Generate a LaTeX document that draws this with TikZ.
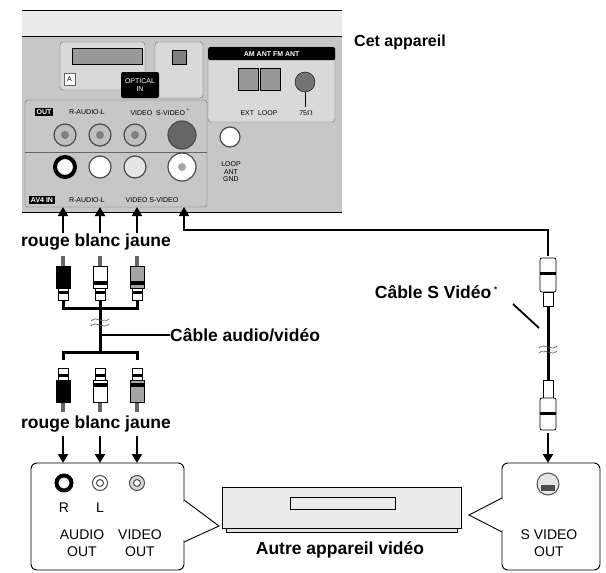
\documentclass[tikz,border=0pt]{standalone}
\usepackage{fontspec}
\setmainfont{Liberation Sans}
\usetikzlibrary{arrows.meta}

\tikzset{
  lbl/.style={font=\bfseries\fontsize{17.5}{17.5}\selectfont, inner sep=0pt},
  tiny/.style={font=\fontsize{7}{7.5}\selectfont, inner sep=0pt},
  tinyw/.style={tiny, text=white, fill=black, inner sep=1.5pt},
  small/.style={font=\fontsize{14}{14}\selectfont, inner sep=0pt, align=center},
  jack/.style={circle, draw=black!70, fill=black!25, line width=1.2pt},
  conn/.style={line width=2.4pt, -{Triangle[length=9pt,width=10pt]}},
  cable/.style={line width=3pt},
  callout/.style={draw, line width=0.9pt, rounded corners=6pt, fill=white}
}

\newcommand\rcaplug[3]{% x, y of tip, colour; plug pointing up
  \fill[black!60] (#1-2,#2) rectangle (#1+2,#2+10);
  \filldraw[fill=#3, draw=black, line width=0.7pt] (#1-7,#2+10) rectangle (#1+7,#2+32);
  \fill[black] (#1-7,#2+25) rectangle (#1+7,#2+29);
  \filldraw[fill=white, draw=black, line width=0.7pt] (#1-5,#2+32) rectangle (#1+5,#2+44);
  \fill[black] (#1-5,#2+35) rectangle (#1+5,#2+38);
}
\newcommand\wave[2]{% cable break mark
  \draw[line width=0.7pt, black!60] (#1-9,#2-2) .. controls (#1-3,#2-8) and (#1+3,#2+2) .. (#1+9,#2-4);
  \draw[line width=0.7pt, black!60] (#1-9,#2+3) .. controls (#1-3,#2-3) and (#1+3,#2+7) .. (#1+9,#2+1);
}

\begin{document}
\begin{tikzpicture}[x=1pt, y=-1pt]
\useasboundingbox (0,0) rectangle (606,573);

% back panel
\fill[black!8] (22,10) rectangle (342,36);
\draw[line width=0.8pt] (22,10) -- (342,10);
\fill[black!22] (22,36) rectangle (342,212);
\draw[line width=0.8pt] (22,36) -- (342,36);
\draw[line width=1pt] (22,212) -- (342,212);
\draw[black!60, rounded corners=3pt, fill=black!15] (60,42) rectangle (145,90);
\filldraw[fill=black!40, draw=black] (72,48) rectangle (142,64);
\draw[black!60, fill=white] (64,73) rectangle (75,85);
\node[tiny] (pa) at (69.5,79) {A};
\draw[black!60, rounded corners=3pt, fill=black!15] (155,42) rectangle (203,98);
\filldraw[fill=black!50, draw=black] (172,50) rectangle (186,64);
\node[tinyw, rounded corners=2pt, align=center, minimum width=38pt, minimum height=26pt] (opt) at (140,85) {OPTICAL\\IN};
% antenna block
\draw[black!60, rounded corners=3pt, fill=black!15] (208,47) rectangle (335,122);
\node[tinyw, font=\bfseries\fontsize{7}{7.5}\selectfont, minimum width=127pt, minimum height=13pt, anchor=north west, rounded corners=2pt] (ant) at (208,47) {AM ANT FM ANT};
\filldraw[fill=black!40, draw=black] (238,68) rectangle (258,90);
\filldraw[fill=black!40, draw=black] (260,68) rectangle (280,90);
\node[circle, fill=black!55, draw=black, minimum size=20pt, inner sep=0pt] (coax) at (305,82) {};
\draw (coax.south) -- (305,107);
\node[tiny] (ext) at (259,113) {EXT\ \ LOOP};
\node[tiny] (ohm) at (306,113) {75$\Omega$};
% jacks block
\draw[black!60, rounded corners=3pt] (25,100) rectangle (207,207);
\draw[black!60] (25,152) -- (207,152);
\node[tinyw, font=\bfseries\fontsize{7}{7.5}\selectfont] (out) at (44,112) {OUT};
\node[tiny] (ral1) at (87,112) {R-AUDIO-L};
\node[tiny] (vs1) at (160,112) {VIDEO\ \ S-VIDEO \textsuperscript{*}};
\node[tinyw, font=\bfseries\fontsize{7}{7.5}\selectfont] (av4) at (42,200) {AV4 IN};
\node[tiny] (ral2) at (87,200) {R-AUDIO-L};
\node[tiny] (vs2) at (152,200) {VIDEO S-VIDEO};
\foreach \x/\n in {65/a, 100/b, 135/c} {
  \node[jack, minimum size=22pt] (o\n) at (\x,135) {};
  \node[circle, fill=black!50, minimum size=8pt, inner sep=0pt] at (\x,135) {};
}
\node[jack, fill=black!60, minimum size=28pt] (os) at (182,135) {};
\node[circle, draw=black, line width=4pt, fill=white, minimum size=20pt] (ia) at (65,167) {};
\node[jack, fill=white, minimum size=22pt] (ib) at (100,167) {};
\node[jack, fill=black!10, minimum size=22pt] (ic) at (135,167) {};
\node[jack, fill=white, minimum size=28pt] (is) at (182,167) {};
\node[circle, fill=black!35, minimum size=8pt, inner sep=0pt] at (182,167) {};
\node[jack, fill=white, minimum size=20pt] (gnd) at (230,137) {};
\node[tiny, align=center] (gndl) at (231,172) {LOOP\\ANT\\GND};
\node[font=\bfseries\fontsize{16}{16}\selectfont, anchor=west, inner sep=0pt] (cet) at (354,42) {Cet appareil};

% inputs
\coordinate (ta) at (63,207);
\coordinate (tb) at (100,207);
\coordinate (tc) at (137,207);
\coordinate (ts) at (184,207);
\coordinate (sa) at (63,233);
\coordinate (sb) at (100,233);
\coordinate (sc) at (137,233);
\draw[conn] (sa) -- (ta);
\draw[conn] (sb) -- (tb);
\draw[conn] (sc) -- (tc);
\coordinate (sv) at (548,256);
\draw[line width=1.8pt, -{Triangle[length=9pt,width=10pt]}] (sv) |- (184,230) -- (ts);
\node[lbl] (col1) at (96,242) {rouge blanc jaune};

% audio/video cable
\draw[cable] (63,300) |- (137,308) -- (137,300);
\draw[cable] (100,300) -- (100,352);
\draw[cable] (63,360) |- (137,352) -- (137,360);
\wave{100}{323}
\rcaplug{63}{256}{black}
\rcaplug{100}{256}{white}
\rcaplug{137}{256}{black!35}
\begin{scope}[shift={(0,668)}, yscale=-1]
\rcaplug{63}{256}{black}
\rcaplug{100}{256}{white}
\rcaplug{137}{256}{black!35}
\end{scope}
\coordinate (avc) at (100,335);
\node[lbl, anchor=west] (avl) at (170,335) {Câble audio/vidéo};
\draw[line width=1.8pt] (avc) -- (avl.west);
\node[lbl] (col2) at (96,424) {rouge blanc jaune};

% S video cable
\draw[cable] (548,300) -- (548,385);
\wave{548}{350}
\filldraw[fill=white, draw=black, line width=0.7pt, rounded corners=2pt] (540,258) rectangle (556,292);
\fill[black] (540,272) rectangle (556,275);
\filldraw[fill=white, draw=black, line width=0.7pt] (543,292) rectangle (553,306);
\filldraw[fill=white, draw=black, line width=0.7pt] (543,380) rectangle (553,398);
\filldraw[fill=white, draw=black, line width=0.7pt, rounded corners=2pt] (540,398) rectangle (556,430);
\fill[black] (540,412) rectangle (556,415);
\node[lbl, anchor=east] (svl) at (498,292) {Câble S Vidéo\,\textsuperscript{\fontsize{8}{8}\selectfont *}};
\coordinate (svc) at (539,328);
\draw[line width=1.8pt] (513,304) -- (svc);

% other device
\coordinate (da) at (63,436);
\coordinate (db) at (100,436);
\coordinate (dc) at (137,436);
\coordinate (ds) at (548,433);
\draw[conn] (da) -- (63,463);
\draw[conn] (db) -- (100,463);
\draw[conn] (dc) -- (137,463);
\draw[conn] (ds) -- (548,463);

\draw[callout] (31,463) rectangle (184,570);
\filldraw[fill=white, line width=0.9pt] (184,500) -- (219,526) -- (184,542);
\draw[white, line width=1.4pt] (184,502) -- (184,540);
\draw[callout] (502,463) rectangle (600,570);
\filldraw[fill=white, line width=0.9pt] (502,498) -- (469,515) -- (502,532);
\draw[white, line width=1.4pt] (502,500) -- (502,530);

\filldraw[fill=black!8, draw=black, line width=0.9pt] (222,487) rectangle (461,528);
\draw[line width=0.8pt, fill=black!12] (226,528) rectangle (457,532);
\draw[line width=0.8pt] (290,497) rectangle (395,509);
\node[lbl] (dev) at (340,550) {Autre appareil vidéo};

\node[circle, draw=black, line width=4pt, minimum size=15pt, inner sep=0pt] (ra) at (64,483) {};
\node[circle, draw=black!70, line width=1pt, minimum size=15pt, inner sep=0pt] (rb) at (100,483) {};
\node[circle, draw=black!70, line width=1pt, minimum size=7pt, inner sep=0pt] at (100,483) {};
\node[circle, draw=black!70, fill=black!15, line width=1pt, minimum size=15pt, inner sep=0pt] (rc) at (137,483) {};
\node[circle, draw=black!70, fill=white, line width=1pt, minimum size=7pt, inner sep=0pt] at (137,483) {};
\node[small] (rl) at (64,508) {R};
\node[small] (ll) at (100,508) {L};
\node[small] (aud) at (82,543) {AUDIO\\[3pt]OUT};
\node[small] (vid) at (140,543) {VIDEO\\[3pt]OUT};
\node[circle, draw=black!70, fill=black!10, line width=1pt, minimum size=22pt, inner sep=0pt] (rs) at (548,484) {};
\fill[black!70] (541,485) rectangle (555,491);
\node[small] (svo) at (549,543) {S VIDEO\\[3pt]OUT};
\end{tikzpicture}
\end{document}
